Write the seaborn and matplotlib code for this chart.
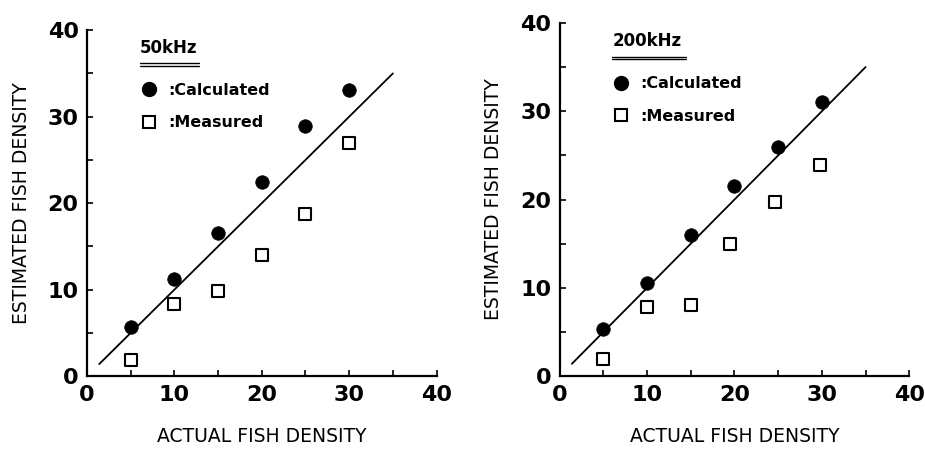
import numpy as np
import pandas as pd
import matplotlib
matplotlib.use('Agg')
import matplotlib.pyplot as plt
import seaborn as sns
from matplotlib.lines import Line2D

# values
actual = [5, 10, 15, 20, 25, 30]
calc_50 = [5.7, 11.2, 16.5, 22.5, 28.9, 33.1]
meas_50 = [1.9, 8.3, 9.9, 14.0, 18.8, 26.9]
actual_meas_200 = [5, 10, 15, 19.5, 24.6, 29.8]
calc_200 = [5.3, 10.5, 16.0, 21.5, 26.0, 31.1]
meas_200 = [2.0, 7.8, 8.1, 15.0, 19.7, 23.9]
line_x = [1.4, 35]
panel_titles = ['50kHz', '200kHz']

sns.set_style('ticks')
plt.rcParams['font.family'] = ['DejaVu Sans']
plt.rcParams['text.color'] = 'black'
plt.rcParams['axes.labelcolor'] = 'black'
plt.rcParams['xtick.color'] = 'black'
plt.rcParams['ytick.color'] = 'black'
plt.rcParams['axes.edgecolor'] = 'black'

fig = plt.figure(figsize=(9.25, 4.5), dpi=100)
axes = [fig.add_axes([0.094, 0.164, 0.378, 0.769]),
        fig.add_axes([0.605, 0.164, 0.378, 0.785])]

panels = [
    (actual, calc_50, actual, meas_50),
    (actual, calc_200, actual_meas_200, meas_200),
]

for ax, (xc, yc, xm, ym), title in zip(axes, panels, panel_titles):
    sns.lineplot(x=line_x, y=line_x, ax=ax, color='black', linewidth=1.3)
    sns.scatterplot(x=xc, y=yc, ax=ax, marker='o', s=95, color='black',
                    edgecolor='black', linewidth=0.5, zorder=3)
    sns.scatterplot(x=xm, y=ym, ax=ax, marker='s', s=70, facecolor='white',
                    edgecolor='black', linewidth=1.5, zorder=3)
    ax.set_xlim(0, 40)
    ax.set_ylim(0, 40)
    ax.set_xticks([0, 10, 20, 30, 40])
    ax.set_yticks([0, 10, 20, 30, 40])
    ax.set_xticks([5, 15, 25, 35], minor=True)
    ax.set_yticks([5, 15, 25, 35], minor=True)
    ax.tick_params(which='both', direction='in', length=4, width=1.2,
                   labelsize=16, pad=6)
    for lab in ax.get_xticklabels() + ax.get_yticklabels():
        lab.set_fontweight('bold')
    sns.despine(ax=ax)
    for sp in ax.spines.values():
        sp.set_linewidth(1.6)
    ax.set_xlabel('ACTUAL FISH DENSITY', fontsize=13.5, labelpad=16)
    ax.set_ylabel('ESTIMATED FISH DENSITY', fontsize=13.5, labelpad=12)

    # panel title with double underline
    ax.text(0.151, 0.948, title, transform=ax.transAxes, fontsize=12,
            fontweight='bold', va='center', ha='left')
    w = 0.17 if title == '50kHz' else 0.21
    for dy in (0.905, 0.897):
        ax.plot([0.151, 0.151 + w], [dy, dy], transform=ax.transAxes,
                color='black', linewidth=1.0, clip_on=False)

    handles = [Line2D([], [], marker='o', color='black', linestyle='none',
                      markersize=10),
               Line2D([], [], marker='s', markerfacecolor='white',
                      markeredgecolor='black', markeredgewidth=1.5,
                      linestyle='none', markersize=8.5)]
    ax.legend(handles, [':Calculated', ':Measured'], loc='upper left',
              bbox_to_anchor=(0.09, 0.89), frameon=False, handletextpad=0.2,
              labelspacing=1.1, prop={'size': 11.5, 'weight': 'bold'})

fig.savefig('out.png', dpi=100)
